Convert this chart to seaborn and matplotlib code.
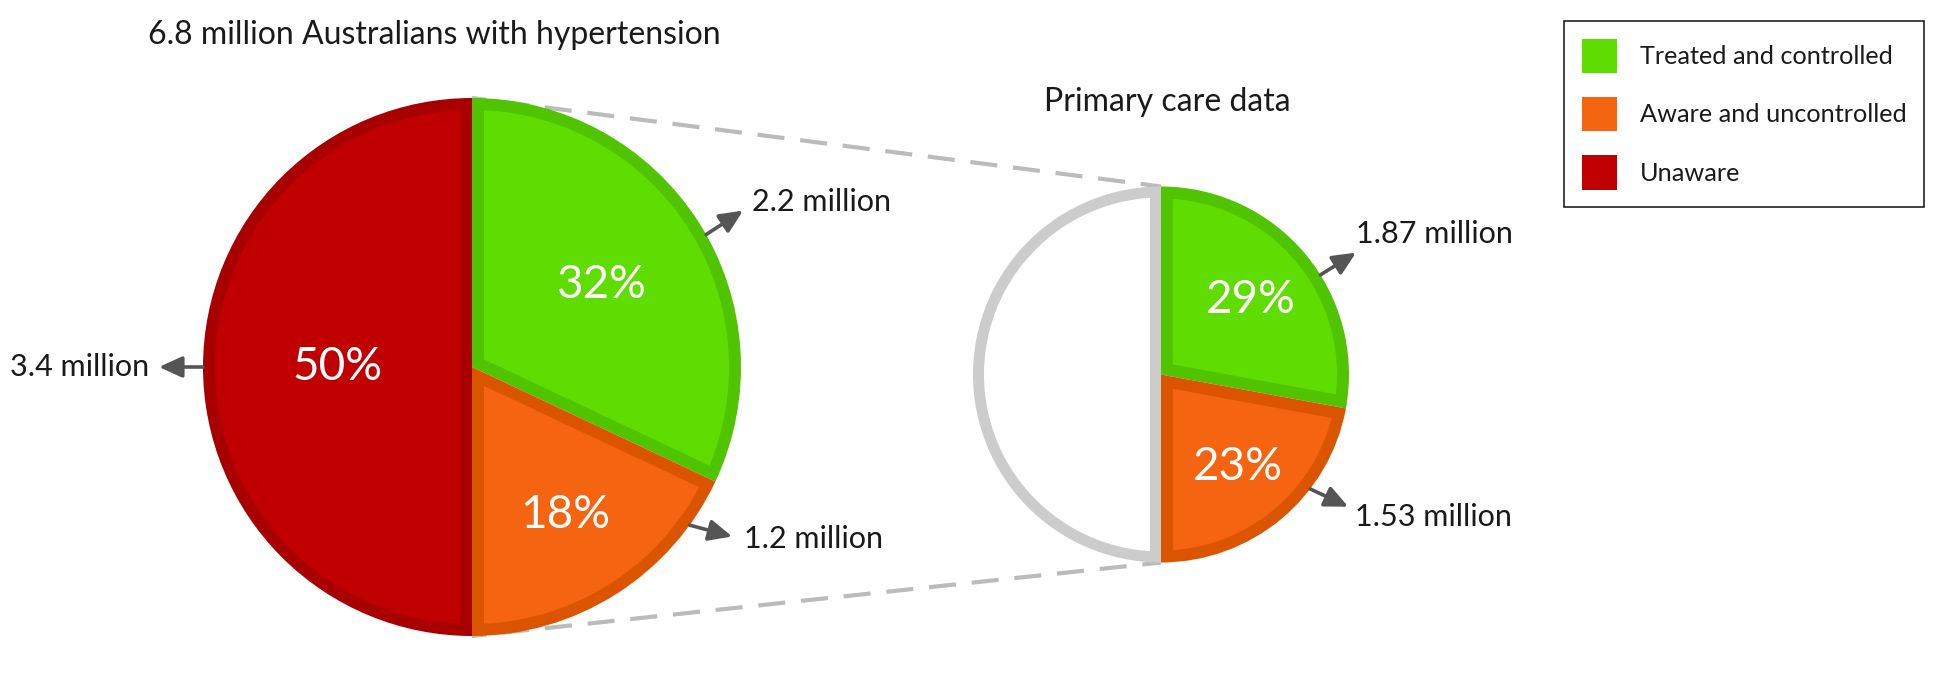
import numpy as np
import matplotlib
matplotlib.use("Agg")
import matplotlib.pyplot as plt
from matplotlib.patches import Patch
import seaborn as sns

# values
categories = ["Treated and controlled", "Aware and uncontrolled", "Unaware"]
national_pct = [32, 18, 50]
national_millions = [2.2, 1.2, 3.4]
primary_pct = [29, 23]
primary_millions = [1.87, 1.53]

title_national = "6.8 million Australians with hypertension"
title_primary = "Primary care data"

fill_colors = ["#5fdc00", "#f46411", "#c00000"]
edge_colors = ["#50c400", "#db5500", "#a80000"]
ring_gray = "#cccccc"

W, H = 1935, 685
DPI = 100


def px(x, y):
    # picture pixels (y down) -> data coords (y up)
    return x, H - y


def inset_fill(wedges, center, r, colors, border):
    # the pie is drawn in the border colour; cover each wedge with a
    # smaller copy so the border stays on the inside of every slice
    cx, cy = center
    for w, col, b in zip(wedges, colors, border):
        t1, t2 = np.deg2rad(w.theta1), np.deg2rad(w.theta2)
        mid = (t1 + t2) / 2
        d = b / np.sin((t2 - t1) / 2)
        rin = r - b
        delta = np.arcsin(b / rin)
        phi = np.linspace(t1 + delta, t2 - delta, 300)
        xs = np.r_[cx + d * np.cos(mid), cx + rin * np.cos(phi)]
        ys = np.r_[cy + d * np.sin(mid), cy + rin * np.sin(phi)]
        ax.fill(xs, ys, color=col, lw=0)


def pct_labels(wedges, center, r, pcts, fracs):
    for w, p, f in zip(wedges, pcts, fracs):
        a = np.deg2rad((w.theta1 + w.theta2) / 2)
        ax.text(center[0] + f * r * np.cos(a), center[1] + f * r * np.sin(a),
                f"{p}%", color="white", fontsize=33, ha="center", va="center")


def callouts(center, r, values, attach_deg, dir_deg, offsets, aligns, length=44):
    for v, a, d, off, ha in zip(values, attach_deg, dir_deg, offsets, aligns):
        a, d = np.deg2rad(a), np.deg2rad(d)
        tail = (center[0] + r * np.cos(a), center[1] + r * np.sin(a))
        head = (tail[0] + length * np.cos(d), tail[1] + length * np.sin(d))
        ax.annotate("", xy=head, xytext=tail,
                    arrowprops=dict(arrowstyle="-|>,head_length=0.7,head_width=0.32",
                                    color="#555555", lw=2.6, shrinkA=0, shrinkB=0,
                                    mutation_scale=20))
        ax.text(head[0] + off[0], head[1] - off[1], f"{v:g} million",
                fontsize=22, color="#1a1a1a", ha=ha, va="center")


sns.set_theme(style="white")
plt.rcParams["font.family"] = ["Lato", "DejaVu Sans"]

fig = plt.figure(figsize=(W / DPI, H / DPI), dpi=DPI)
ax = fig.add_axes([0, 0, 1, 1])

big_c, big_r = px(472, 367), 269
small_c, small_r = px(1161, 374.5), 188

# dashed zoom lines between the two pies
for y_big, y_small in [(big_c[1] + big_r, small_c[1] + small_r),
                       (big_c[1] - big_r, small_c[1] - small_r)]:
    ax.plot([big_c[0], small_c[0]], [y_big, y_small], color="#bbbbbb",
            lw=3, linestyle=(3, (6.5, 3.8)), zorder=0, solid_capstyle="butt")

# national pie
big_wedges, _ = ax.pie(national_pct, colors=edge_colors, startangle=90,
                       counterclock=False, center=big_c, radius=big_r,
                       wedgeprops=dict(linewidth=0))
inset_fill(big_wedges, big_c, big_r, fill_colors, [12, 12, 12])
pct_labels(big_wedges, big_c, big_r, national_pct, [0.57, 0.65, 0.50])

# primary care pie: right half split by the data, left half an empty ring
small_vals = primary_pct + [sum(primary_pct)]
small_wedges, _ = ax.pie(small_vals, colors=edge_colors[:2] + [ring_gray], startangle=90,
                         counterclock=False, center=small_c, radius=small_r,
                         wedgeprops=dict(linewidth=0))
inset_fill(small_wedges, small_c, small_r, fill_colors[:2] + ["white"], [12, 12, 11])
pct_labels(small_wedges[:2], small_c, small_r, primary_pct, [0.62, 0.64])

callouts(big_c, big_r, national_millions, [29.5, -36, 180], [33, -15, 180],
         [(9, -9), (12, 2), (-10, 0)], ["left", "left", "right"])
callouts(small_c, small_r, primary_millions, [32, -37.5], [32, -25],
         [(0, -19), (7, 10)], ["left", "left"], length=42)

ax.text(*px(434, 35), title_national, fontsize=23, ha="center", va="center",
        color="#1a1a1a")
ax.text(*px(1167, 102), title_primary, fontsize=23, ha="center", va="center",
        color="#1a1a1a")

handles = [Patch(facecolor=c, edgecolor="none", label=l)
           for c, l in zip(fill_colors, categories)]
leg = ax.legend(handles=handles, loc="upper right",
                bbox_to_anchor=(1924 / W, 1 - 21 / H), bbox_transform=fig.transFigure,
                fontsize=18.2, frameon=True, fancybox=False, framealpha=1,
                edgecolor="#222222", handlelength=1.39, handleheight=1.71,
                handletextpad=0.9, labelspacing=0.95, borderpad=0.7,
                borderaxespad=0)
leg.get_frame().set_linewidth(1.2)
for t in leg.get_texts():
    t.set_color("#1a1a1a")

ax.set_xlim(0, W)
ax.set_ylim(0, H)
ax.set_aspect("equal")
ax.axis("off")

fig.savefig("out.png", dpi=DPI, facecolor="white")
